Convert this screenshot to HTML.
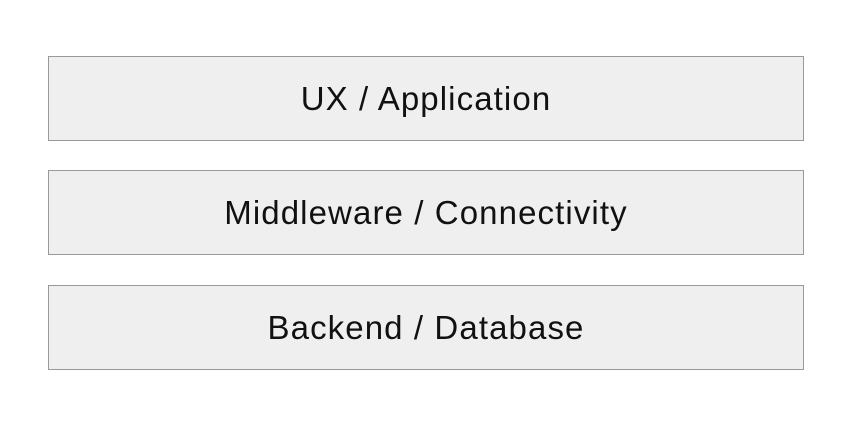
<!DOCTYPE html>
<html><head><style>
html,body{margin:0;padding:0;background:#fff;width:856px;height:424px;overflow:hidden}
.b{position:absolute;left:48px;width:754px;height:83px;background:#efefef;border:1.5px solid #999;
display:flex;align-items:center;justify-content:center;font-family:"Liberation Sans",sans-serif;font-size:33px;letter-spacing:1.1px;color:#111}
</style></head><body>
<div class="b" style="top:56px">UX / Application</div>
<div class="b" style="top:170px">Middleware / Connectivity</div>
<div class="b" style="top:285px">Backend / Database</div>
</body></html>
